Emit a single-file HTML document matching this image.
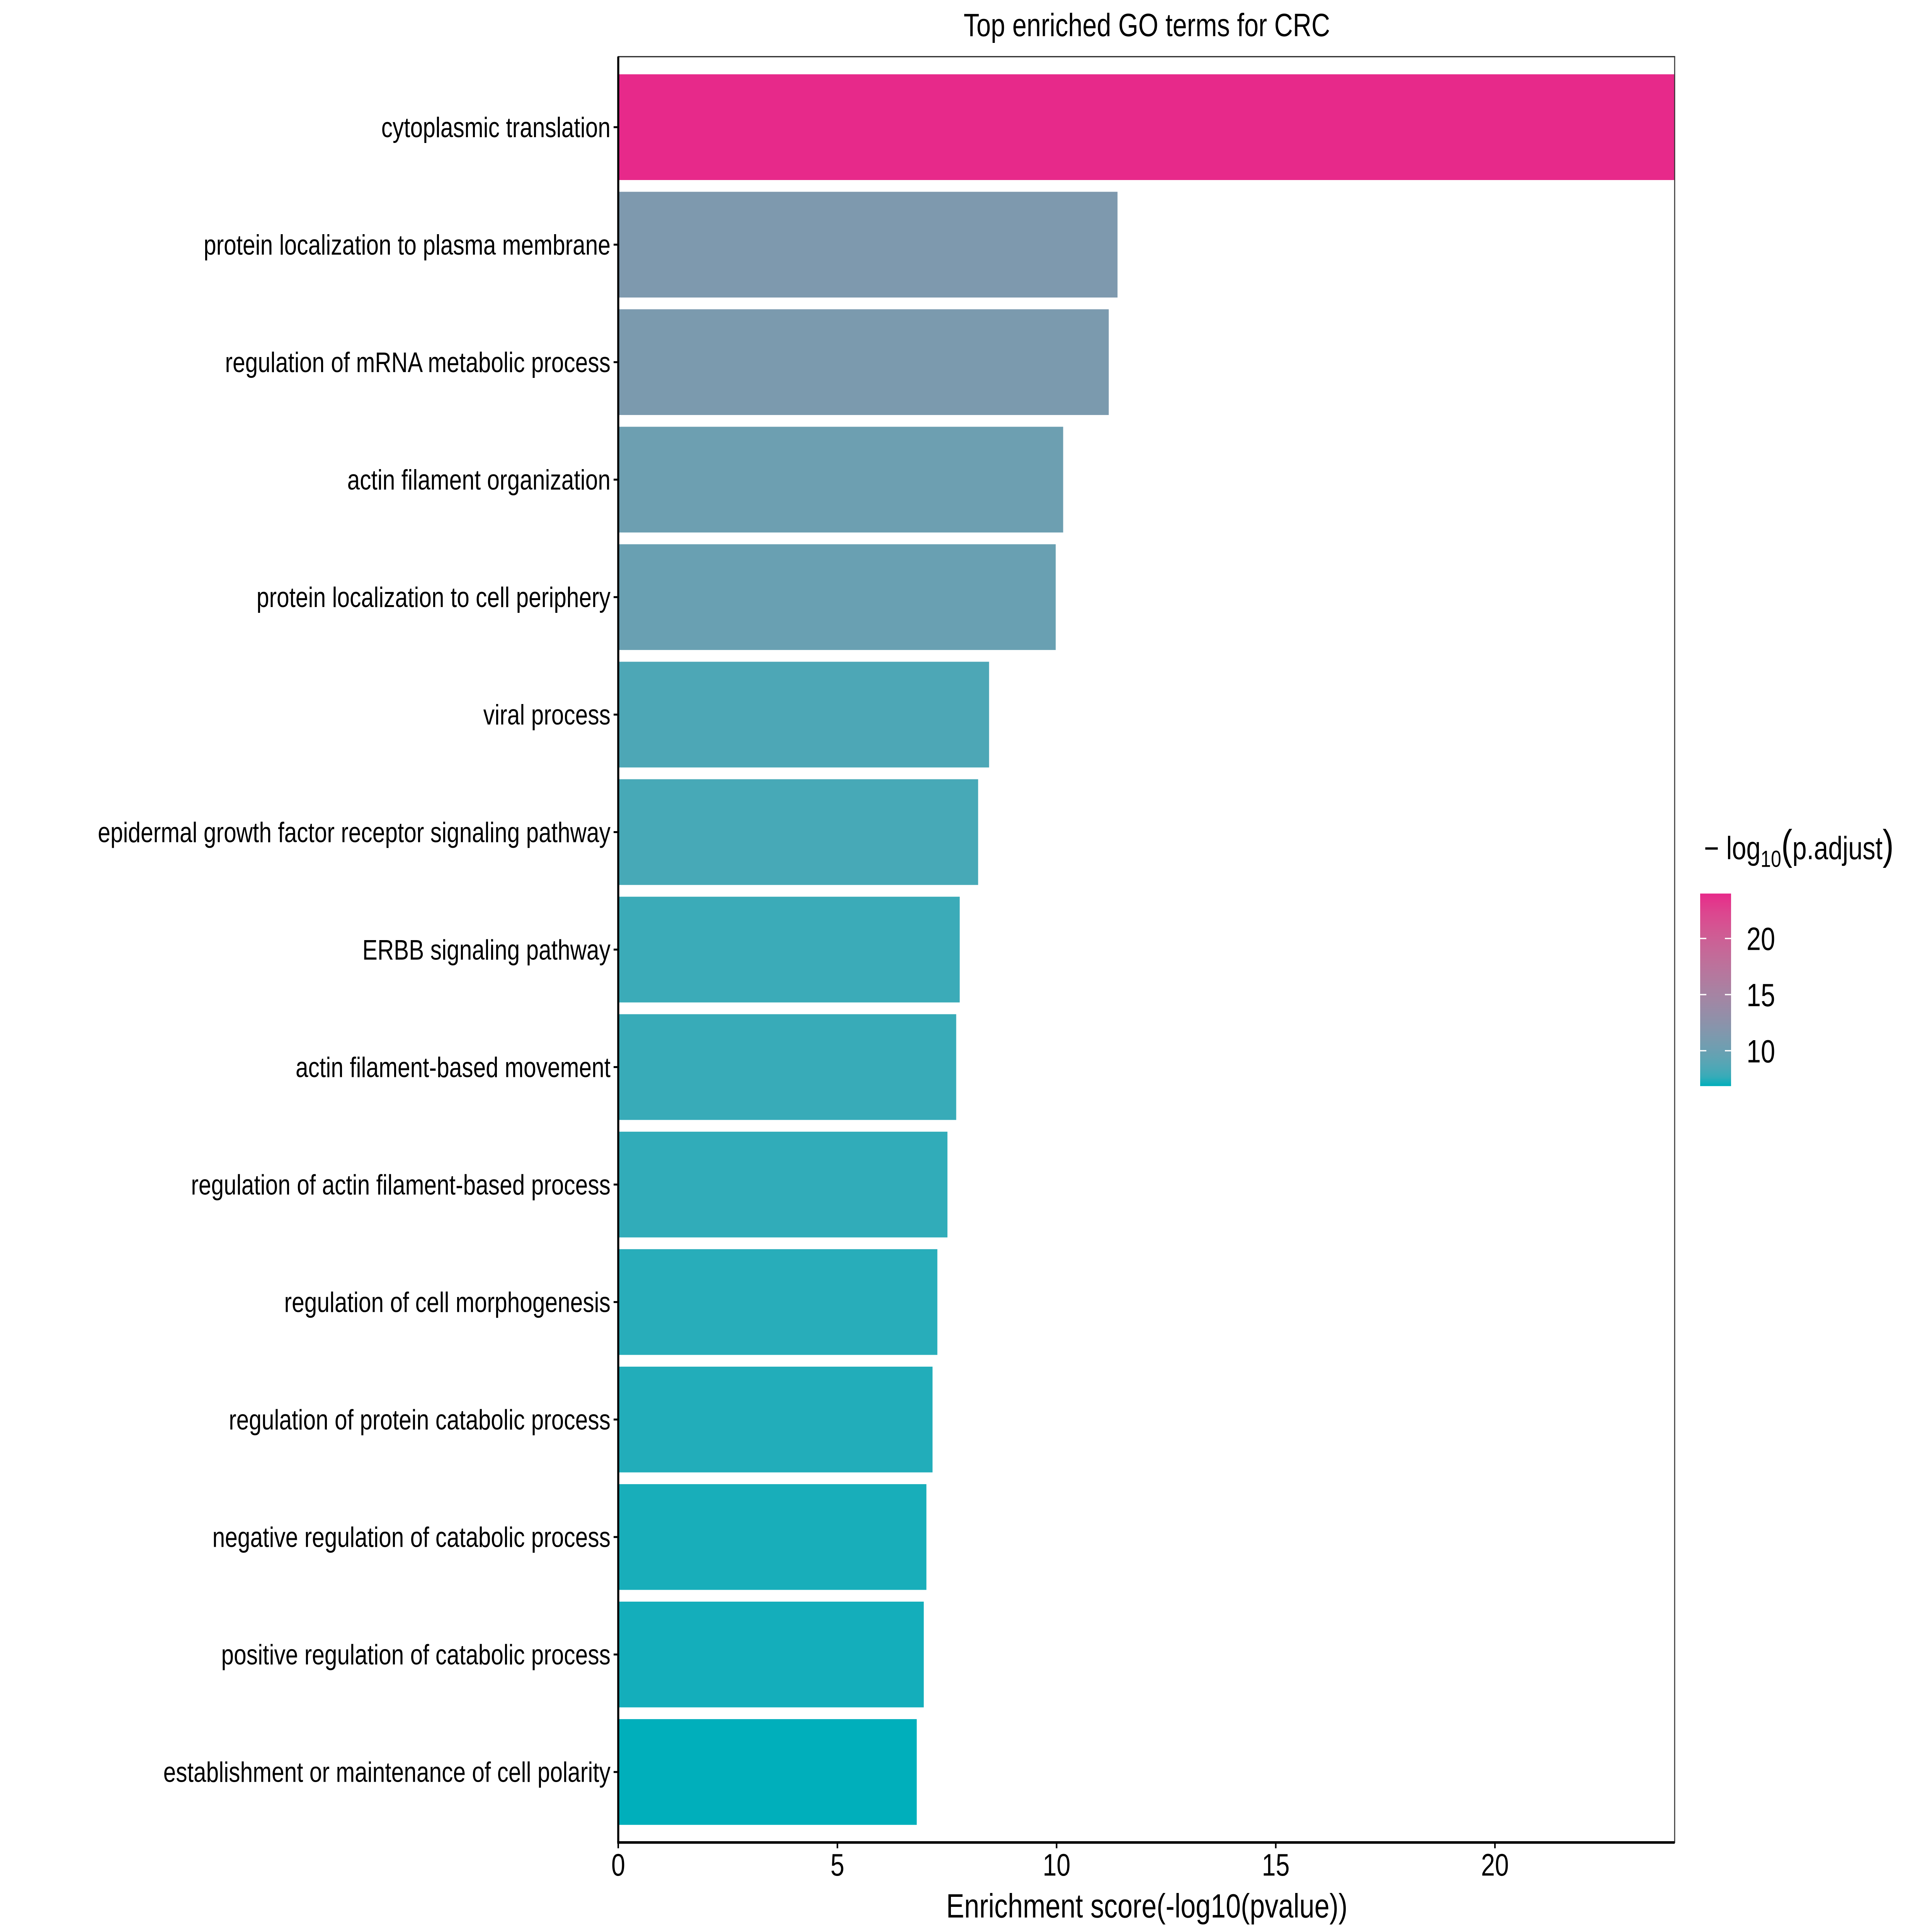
<!DOCTYPE html>
<html><head><meta charset="utf-8"><style>
html,body{margin:0;padding:0;background:#fff;width:100%;height:100%;overflow:hidden;}
svg{display:block;width:100vw;height:100vh;font-family:"Liberation Sans",sans-serif;}
</style></head><body>
<svg id="chart" viewBox="0 0 7500 6000" preserveAspectRatio="none" xmlns="http://www.w3.org/2000/svg">
<rect width="7500" height="6000" fill="#fff"/>
<text x="4452" y="112" font-size="100" text-anchor="middle">Top enriched GO terms for CRC</text>
<g id="bars"></g>
<g id="ylabels"></g>
<g id="xaxis"></g>
<rect x="2400" y="176" width="4101" height="5546" fill="none" stroke="#333" stroke-width="4"/>
<line x1="2400" y1="176" x2="2400" y2="5722" stroke="#000" stroke-width="8"/>
<line x1="2396" y1="5722" x2="6501" y2="5722" stroke="#000" stroke-width="8"/>
<text x="4452" y="5955" font-size="105" text-anchor="middle">Enrichment score(-log10(pvalue))</text>
<g>
<text x="6615" y="2668" font-size="100">− log<tspan font-size="72" dy="24">10</tspan><tspan dy="-24" font-size="130">(</tspan>p.adjust<tspan font-size="130">)</tspan></text>
<defs><linearGradient id="cbar" x1="0" y1="1" x2="0" y2="0"></linearGradient></defs>
<rect id="cbarRect" x="6600" y="2775" width="120" height="598" fill="url(#cbar)"/>
<g id="cbticks"></g>
</g>
</svg>
<script>
const categories = ["cytoplasmic translation","protein localization to plasma membrane","regulation of mRNA metabolic process","actin filament organization","protein localization to cell periphery","viral process","epidermal growth factor receptor signaling pathway","ERBB signaling pathway","actin filament-based movement","regulation of actin filament-based process","regulation of cell morphogenesis","regulation of protein catabolic process","negative regulation of catabolic process","positive regulation of catabolic process","establishment or maintenance of cell polarity"];
const values = [24.1,11.39,11.19,10.15,9.98,8.46,8.21,7.79,7.71,7.51,7.28,7.17,7.03,6.97,6.81];
const padj = [24.0,11.3,11.1,10.1,9.9,8.45,8.2,7.8,7.7,7.5,7.3,7.2,7.05,7.0,6.85];
const xTicks = [0,5,10,15,20];
const legendTicks = [10,15,20];

const NS="http://www.w3.org/2000/svg";
const L=2400,R=6501,T=176,B=5722,XMAX=24.1;
const xs=v=>L+(v/XMAX)*(R-L);
const n=categories.length, step=(B-T)/(n+0.2);
const yc=i=>T+step*(0.6+i);
const bh=step*0.9;
const cmin=Math.min(...padj), cmax=Math.max(...padj);
function toLab(h){let r=parseInt(h.substr(1,2),16)/255,g=parseInt(h.substr(3,2),16)/255,b=parseInt(h.substr(5,2),16)/255;
 const f=c=>c<=0.04045?c/12.92:Math.pow((c+0.055)/1.055,2.4);r=f(r);g=f(g);b=f(b);
 let X=(r*0.4124+g*0.3576+b*0.1805)/0.95047,Y=r*0.2126+g*0.7152+b*0.0722,Z=(r*0.0193+g*0.1192+b*0.9505)/1.08883;
 const q=t=>t>0.008856?Math.cbrt(t):7.787*t+16/116;X=q(X);Y=q(Y);Z=q(Z);return [116*Y-16,500*(X-Y),200*(Y-Z)];}
function fromLab(l){let Y=(l[0]+16)/116,X=l[1]/500+Y,Z=Y-l[2]/200;const q=t=>t*t*t>0.008856?t*t*t:(t-16/116)/7.787;
 X=q(X)*0.95047;Y=q(Y);Z=q(Z)*1.08883;
 let r=X*3.2406+Y*-1.5372+Z*-0.4986,g=X*-0.9689+Y*1.8758+Z*0.0415,b=X*0.0557+Y*-0.2040+Z*1.0570;
 const f=c=>{c=c<=0.0031308?12.92*c:1.055*Math.pow(c,1/2.4)-0.055;return Math.max(0,Math.min(255,Math.round(c*255)));};
 return `rgb(${f(r)},${f(g)},${f(b)})`;}
const lo=toLab("#00AFBB"),hi=toLab("#E7298A");
const col=v=>{const t=Math.max(0,Math.min(1,(v-cmin)/(cmax-cmin)));return fromLab(lo.map((a,k)=>a+(hi[k]-a)*t));};

const gb=document.getElementById('bars'),gl=document.getElementById('ylabels');
categories.forEach((c,i)=>{
 const r=document.createElementNS(NS,'rect');
 r.setAttribute('x',L);r.setAttribute('y',yc(i)-bh/2);r.setAttribute('width',xs(values[i])-L);r.setAttribute('height',bh);r.setAttribute('fill',col(padj[i]));
 
 
 gb.appendChild(r);
 const tk=document.createElementNS(NS,'line');
 tk.setAttribute('x1',L-18);tk.setAttribute('x2',L);tk.setAttribute('y1',yc(i));tk.setAttribute('y2',yc(i));tk.setAttribute('stroke','#000');tk.setAttribute('stroke-width','6');
 
 
 gl.appendChild(tk);
 const t=document.createElementNS(NS,'text');
 t.setAttribute('x',L-30);t.setAttribute('y',yc(i)+31);t.setAttribute('font-size','88');t.setAttribute('text-anchor','end');t.textContent=c;
 
 
 gl.appendChild(t);
});
const gx=document.getElementById('xaxis');
xTicks.forEach(v=>{
 const tk=document.createElementNS(NS,'line');
 tk.setAttribute('x1',xs(v));tk.setAttribute('x2',xs(v));tk.setAttribute('y1',B);tk.setAttribute('y2',B+18);tk.setAttribute('stroke','#000');tk.setAttribute('stroke-width','6');
 
 
 gx.appendChild(tk);
 const t=document.createElementNS(NS,'text');
 t.setAttribute('x',xs(v));t.setAttribute('y',B+103);t.setAttribute('font-size','97');t.setAttribute('text-anchor','middle');t.textContent=v;
 
 
 gx.appendChild(t);
});
const grad=document.getElementById('cbar');
for(let k=0;k<=20;k++){const s=document.createElementNS(NS,'stop');s.setAttribute('offset',k/20);s.setAttribute('stop-color',col(cmin+(cmax-cmin)*k/20));grad.appendChild(s);}
const CT=2775,CB=3373;
const cy=v=>CB-(v-cmin)/(cmax-cmin)*(CB-CT);
const gc=document.getElementById('cbticks');
legendTicks.forEach(v=>{
 [[6600,6624],[6696,6720]].forEach(p=>{const l=document.createElementNS(NS,'line');
  l.setAttribute('x1',p[0]);l.setAttribute('x2',p[1]);l.setAttribute('y1',cy(v));l.setAttribute('y2',cy(v));l.setAttribute('stroke','#fff');l.setAttribute('stroke-width','4');
  
  
  gc.appendChild(l);});
 const t=document.createElementNS(NS,'text');
 t.setAttribute('x',6780);t.setAttribute('y',cy(v)+36);t.setAttribute('font-size','100');t.textContent=v;
 
 
 gc.appendChild(t);
});
</script>
</body></html>
